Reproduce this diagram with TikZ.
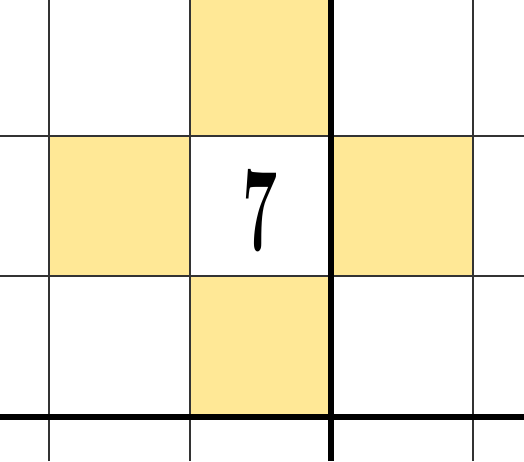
\documentclass[tikz,border=0pt]{standalone}
\usepackage{graphicx}
\definecolor{hint}{RGB}{255,232,150}

\begin{document}
\begin{tikzpicture}[x=0.5pt, y=0.5pt,
  cell/.style={fill=hint},
  gridline/.style={line width=1.1pt, black!80},
  boxline/.style={line width=2.6pt, black}]
\useasboundingbox (0,0) rectangle (524,461);
% shaded neighbours of the given cell
\foreach \x/\y in {190/325, 49/185, 331/185, 190/44}
  \fill[cell] (\x,\y) rectangle ++(141,140);
\foreach \x in {49,190,473}
  \draw[gridline] (\x,0) -- (\x,461);
\foreach \y in {325,185}
  \draw[gridline] (0,\y) -- (524,\y);
\draw[boxline] (331,0) -- (331,461);
\draw[boxline] (0,44) -- (524,44);
\node[inner sep=0pt] (seven) at (260.5,250) {\scalebox{0.52}[1]{\fontsize{60}{60}\selectfont\bfseries 7}};
\end{tikzpicture}
\end{document}
